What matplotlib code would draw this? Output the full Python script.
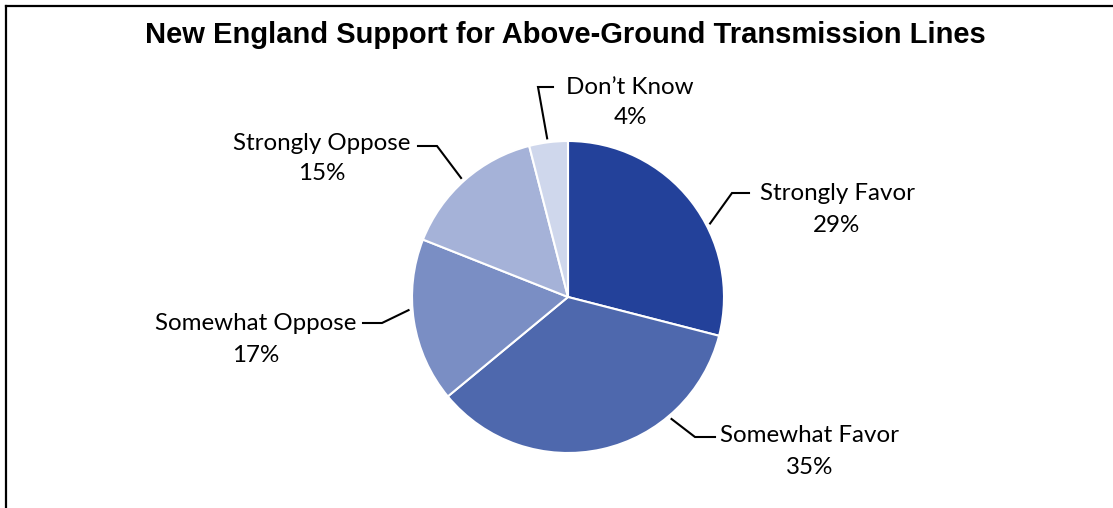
import numpy as np
import matplotlib
matplotlib.use("Agg")
import matplotlib.pyplot as plt

W, H = 1113, 508

LABELS = ["Strongly Favor", "Somewhat Favor", "Somewhat Oppose", "Strongly Oppose", "Don\u2019t Know"]
VALUES = [29, 35, 17, 15, 4]
COLORS = ["#23419A", "#4E68AD", "#7A8EC4", "#A5B2D8", "#CFD7EC"]

# where along each wedge the leader line touches (fraction of wedge span)
ANCHOR_FRAC = [0.40, 0.72, 0.43, 0.51, 0.52]
# label layout in pixels from top-left: elbow, horizontal end, text x, line1 y, line2 y
LAYOUT = [
    ((732, 193), (749, 193), 837, 193, 225),
    ((695, 437), (715, 437), 810, 436, 467),
    ((382, 323), (363, 323), 256, 323, 355),
    ((437, 146), (418, 146), 322, 143, 173),
    ((538, 87), (553, 87), 630, 87, 118),
]

CX, CY, R = 568, H - 297, 156

fig = plt.figure(figsize=(W / 100, H / 100), dpi=100)
fig.patch.set_facecolor("white")
ax = fig.add_axes([0, 0, 1, 1])

wedges, _ = ax.pie(
    VALUES, colors=COLORS, startangle=90, counterclock=False,
    center=(CX, CY), radius=R, frame=True,
    wedgeprops=dict(edgecolor="white", linewidth=1.5),
)
ax.set_xlim(0, W)
ax.set_ylim(0, H)
ax.set_aspect("equal")
ax.axis("off")

font = "Lato"
fs = 17.4
for w, lab, val, frac, lay in zip(wedges, LABELS, VALUES, ANCHOR_FRAC, LAYOUT):
    ang = np.deg2rad(w.theta1 + frac * (w.theta2 - w.theta1))
    sx = CX + (R + 4) * np.cos(ang)
    sy = CY + (R + 4) * np.sin(ang)
    (ex, ey), (hx, hy), tx, y1, y2 = lay
    ax.plot([sx, ex, hx], [sy, H - ey, H - hy], color="black", lw=1.5,
            solid_joinstyle="miter", zorder=5)
    ax.text(tx, H - y1, lab, ha="center", va="center", fontsize=fs,
            family=font, color="black")
    ax.text(tx, H - y2, f"{val}%", ha="center", va="center", fontsize=fs,
            family=font, color="black")

ax.text(565, H - 35, "New England Support for Above-Ground Transmission Lines",
        ha="center", va="center", fontsize=21, fontweight="bold",
        family="Liberation Sans", color="black")

# frame lines (left and top only)
ax.plot([6, 6], [0, H - 6], color="black", lw=1.6, solid_capstyle="projecting")
ax.plot([6, W], [H - 6, H - 6], color="black", lw=1.6, solid_capstyle="projecting")

fig.savefig("out.png", dpi=100, facecolor="white")
